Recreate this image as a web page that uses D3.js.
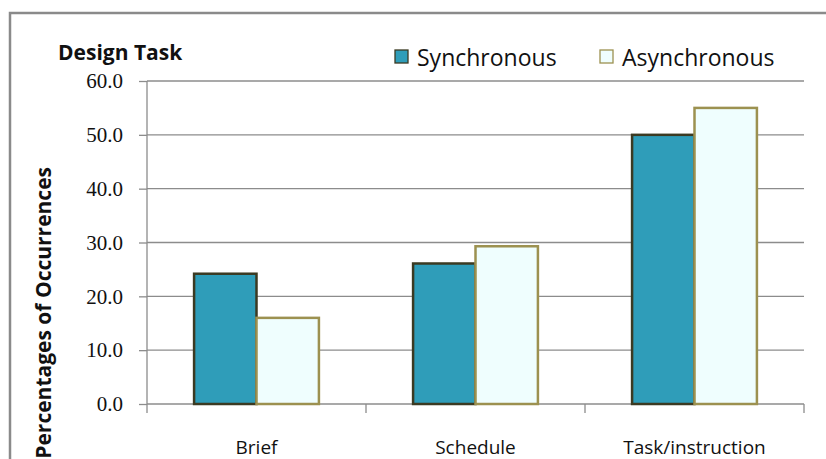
<!doctype html>
<html lang='en'>
<head>
  <meta charset='utf-8'>
  <title>Design Task</title>
  <style>
    html, body { margin: 0; padding: 0; background: #fff; }
    .sans { font-family: 'Liberation Sans Narrow', 'Open Sans', sans-serif; }
    .serif { font-family: 'Liberation Serif', 'DejaVu Serif', serif; }
    line.grid { stroke: #8c8c8c; stroke-width: 1.3; }
  </style>
</head>
<body>
  <script src='https://d3js.org/d3.v7.min.js'></script>
  <script>
    const categories = ['Brief', 'Schedule', 'Task/instruction']
    const seriesNames = ['Synchronous', 'Asynchronous']
    const synchronous = [24.2, 26.1, 50.0]
    const asynchronous = [16.0, 29.3, 55.0]
    const yTicks = [0, 10, 20, 30, 40, 50, 60]

    const width = 826
    const height = 459
    const plotLeft = 147, plotRight = 804, plotTop = 81, plotBottom = 404

    const fills = { Synchronous: '#2f9db9', Asynchronous: '#effefe' }
    const strokes = { Synchronous: '#3b3a22', Asynchronous: '#9c9150' }

    const rows = categories.map((c, i) => ({
      category: c,
      Synchronous: synchronous[i],
      Asynchronous: asynchronous[i]
    }))

    const svg = d3.select('body').append('svg')
      .attr('width', width)
      .attr('height', height)

    // outer frame (top and left edges visible)
    svg.append('path')
      .attr('d', `M10,${height + 2} L10,13 L${width + 2},13`)
      .attr('fill', 'none')
      .attr('stroke', '#8a8a8a')
      .attr('stroke-width', 2.5)

    const x0 = d3.scaleBand()
      .domain(categories)
      .range([plotLeft, plotRight])
      .paddingInner(0.43)
      .paddingOuter(0.215)

    const x1 = d3.scaleBand()
      .domain(seriesNames)
      .range([0, x0.bandwidth()])

    const y = d3.scaleLinear()
      .domain([0, 60])
      .range([plotBottom, plotTop])

    // gridlines
    svg.append('g')
      .selectAll('line')
      .data(yTicks.filter(d => d > 0))
      .join('line')
      .attr('class', 'grid')
      .attr('x1', plotLeft)
      .attr('x2', plotRight)
      .attr('y1', d => y(d))
      .attr('y2', d => y(d))

    // y axis
    const yAxis = svg.append('g')
      .attr('transform', `translate(${plotLeft},0)`)
      .call(d3.axisLeft(y).tickValues(yTicks).tickFormat(d3.format('.1f')).tickSize(8).tickPadding(16))
    yAxis.select('.domain').attr('d', `M0,${plotTop}V${plotBottom + 9}`)
    yAxis.selectAll('line, .domain').attr('stroke', '#8c8c8c').attr('stroke-width', 1.3)
    yAxis.selectAll('text')
      .attr('class', 'serif')
      .attr('font-size', 21)
      .attr('fill', '#111')

    // x axis
    const boundaries = categories.map(c => x0(c) + x0.bandwidth() + x0.step() * x0.paddingInner() / 2)
    svg.append('line')
      .attr('class', 'grid')
      .attr('x1', plotLeft).attr('x2', plotRight)
      .attr('y1', plotBottom).attr('y2', plotBottom)
    svg.append('g')
      .selectAll('line')
      .data(boundaries)
      .join('line')
      .attr('class', 'grid')
      .attr('x1', d => d).attr('x2', d => d)
      .attr('y1', plotBottom).attr('y2', plotBottom + 9)

    svg.append('g')
      .selectAll('text')
      .data(categories)
      .join('text')
      .attr('class', 'sans')
      .attr('x', d => x0(d) + x0.bandwidth() / 2)
      .attr('y', 454)
      .attr('text-anchor', 'middle')
      .attr('font-size', 19)
      .attr('fill', '#111')
      .text(d => d)

    // bars
    const group = svg.append('g')
      .selectAll('g')
      .data(rows)
      .join('g')
      .attr('transform', d => `translate(${x0(d.category)},0)`)

    group.selectAll('rect')
      .data(d => seriesNames.map(s => ({ key: s, value: d[s] })))
      .join('rect')
      .attr('x', d => x1(d.key))
      .attr('y', d => y(d.value))
      .attr('width', x1.bandwidth())
      .attr('height', d => plotBottom - y(d.value))
      .attr('fill', d => fills[d.key])
      .attr('stroke', d => strokes[d.key])
      .attr('stroke-width', 2.5)

    // title
    svg.append('text')
      .attr('class', 'sans')
      .attr('x', 58)
      .attr('y', 60)
      .attr('font-size', 21)
      .attr('font-weight', 'bold')
      .attr('fill', '#111')
      .text('Design Task')

    // y axis title
    svg.append('text')
      .attr('class', 'sans')
      .attr('transform', 'translate(51,167) rotate(-90)')
      .attr('text-anchor', 'end')
      .attr('font-size', 21)
      .attr('font-weight', 'bold')
      .attr('fill', '#111')
      .text('Percentages of Occurrences')

    // legend
    const legendX = [395, 600]
    const legend = svg.append('g')
      .selectAll('g')
      .data(seriesNames)
      .join('g')
      .attr('transform', (d, i) => `translate(${legendX[i]},50)`)

    legend.append('rect')
      .attr('width', 13)
      .attr('height', 13)
      .attr('fill', d => fills[d])
      .attr('stroke', d => strokes[d])
      .attr('stroke-width', 1.3)

    legend.append('text')
      .attr('class', 'sans')
      .attr('x', 22)
      .attr('y', 16)
      .attr('font-size', 23)
      .attr('fill', '#111')
      .text(d => d)
  </script>
</body>
</html>
